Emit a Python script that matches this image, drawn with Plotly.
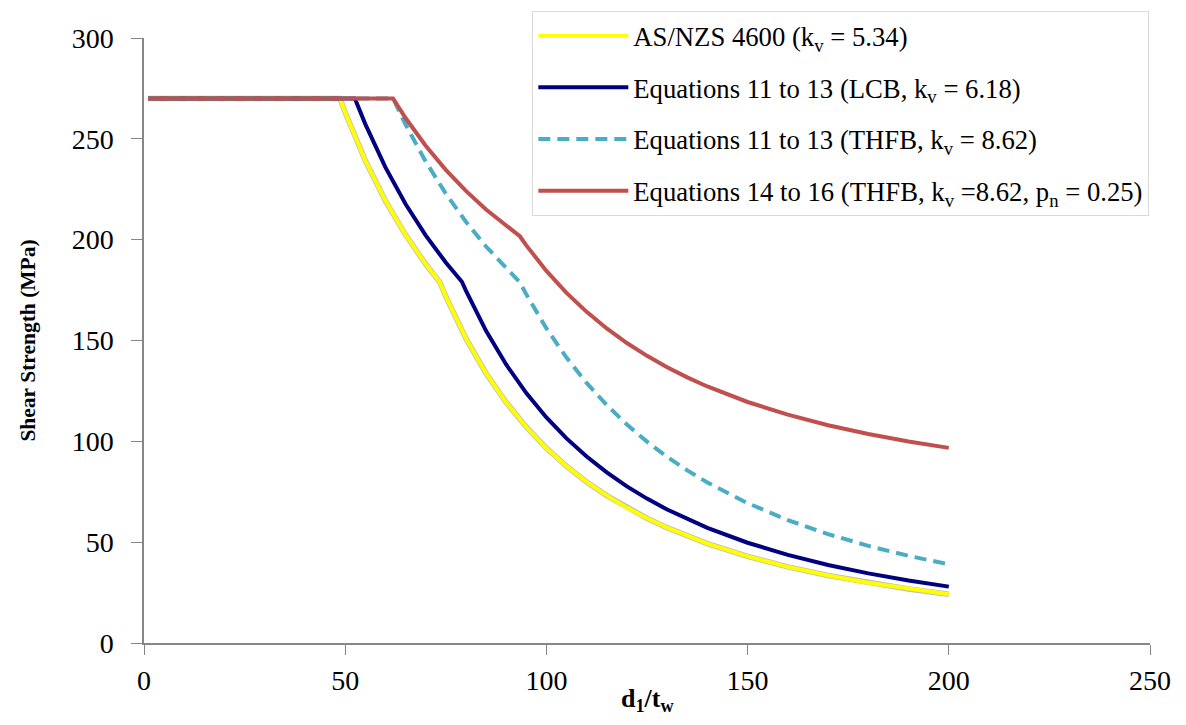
import plotly.graph_objects as go

# AS/NZS 4600 (kv = 5.34)
x_as = [1, 48.7, 50, 55, 60, 65, 70, 73.5, 75, 80, 85, 90, 95, 100, 105, 110, 115, 120, 125, 130,
        140, 150, 160, 170, 180, 190, 200]
y_as = [270, 270, 263.09, 239.17, 219.24, 202.38, 187.92, 178.95, 171.83, 151.02, 133.78, 119.33,
        107.10, 96.65, 87.67, 79.88, 73.08, 67.12, 61.86, 57.19, 49.31, 42.96, 37.76, 33.44, 29.83,
        26.77, 24.16]

# Equations 11 to 13 (LCB, kv = 6.18)
x_lcb = [1, 52.4, 55, 60, 65, 70, 75, 79, 80, 85, 90, 95, 100, 105, 110, 115, 120, 125, 130,
         140, 150, 160, 170, 180, 190, 200]
y_lcb = [270, 270, 257.29, 235.85, 217.70, 202.15, 188.68, 179.15, 174.78, 154.82, 138.10, 123.94,
         111.86, 101.46, 92.44, 84.58, 77.68, 71.59, 66.19, 57.07, 49.71, 43.69, 38.71, 34.52,
         30.99, 27.96]

# Equations 11 to 13 (THFB, kv = 8.62)
x_thfb = [1, 61.9, 65, 70, 75, 80, 85, 90, 93.4, 95, 100, 105, 110, 115, 120, 125, 130, 135, 140,
          150, 160, 170, 180, 190, 200]
y_thfb = [270, 270, 257.11, 238.74, 222.83, 208.90, 196.61, 185.69, 178.90, 172.88, 156.02, 141.52,
          128.94, 117.98, 108.35, 99.85, 92.32, 85.61, 79.60, 69.34, 60.95, 53.99, 48.16, 43.22,
          39.01]

# Equations 14 to 16 (THFB, kv = 8.62, pn = 0.25)
x_pn = [1, 61.9, 65, 70, 75, 80, 85, 90, 93.4, 95, 100, 105, 110, 115, 120, 125, 130, 135, 140,
        150, 160, 170, 180, 190, 200]
y_pn = [270, 270, 260.33, 246.56, 234.62, 224.18, 214.96, 206.77, 201.70, 197.16, 184.52, 173.64,
        164.21, 155.99, 148.76, 142.39, 136.74, 131.71, 127.20, 119.51, 113.21, 107.99, 103.62,
        99.92, 96.76]

x_ticks = [0, 50, 100, 150, 200, 250]
y_ticks = [0, 50, 100, 150, 200, 250, 300]

names = [
    "AS/NZS 4600 (k<sub>v</sub> = 5.34)",
    "Equations 11 to 13 (LCB, k<sub>v</sub> = 6.18)",
    "Equations 11 to 13 (THFB, k<sub>v</sub> = 8.62)",
    "Equations 14 to 16 (THFB, k<sub>v</sub> =8.62, p<sub>n</sub> = 0.25)",
]
x_title = "<b>d<sub>1</sub>/t<sub>w</sub></b>"
y_title = "<b>Shear Strength (MPa)</b>"

fig = go.Figure()
# faint outline under the yellow line
fig.add_trace(go.Scatter(x=x_as, y=y_as, mode="lines", showlegend=False, hoverinfo="skip",
                         line=dict(color="#BDBDBD", width=5.5)))
fig.add_trace(go.Scatter(x=x_as, y=y_as, mode="lines", name=names[0], legendgroup="a",
                         line=dict(color="#FFFF00", width=4)))
fig.add_trace(go.Scatter(x=x_lcb, y=y_lcb, mode="lines", name=names[1], legendgroup="b",
                         line=dict(color="#000080", width=4)))
fig.add_trace(go.Scatter(x=x_thfb, y=y_thfb, mode="lines", name=names[2], legendgroup="c",
                         line=dict(color="#4BACC6", width=4, dash="12px,7px")))
fig.add_trace(go.Scatter(x=x_pn, y=y_pn, mode="lines", name=names[3], legendgroup="d",
                         line=dict(color="#C0504D", width=4)))

font_fam = "Liberation Serif"

fig.update_layout(
    width=1186, height=725,
    margin=dict(l=144, r=36, t=38, b=82, autoexpand=False),
    paper_bgcolor="white", plot_bgcolor="white",
    font=dict(family=font_fam, color="black", size=26),
    showlegend=True,
    legend=dict(
        x=0.386, y=1.045, xanchor="left", yanchor="top",
        bgcolor="white", bordercolor="#D9D9D9", borderwidth=1,
        font=dict(family=font_fam, size=26.7, color="black"),
        tracegroupgap=14, itemwidth=90,
    ),
    xaxis=dict(
        range=[0, 250], tickvals=x_ticks, automargin=False,
        showgrid=False, zeroline=False, showline=True, linecolor="#868686", linewidth=1.5,
        ticks="outside", ticklen=10, tickcolor="#868686", tickwidth=1.3,
        tickfont=dict(size=28, family=font_fam), ticklabelstandoff=2,
    ),
    yaxis=dict(
        range=[0, 300], tickvals=y_ticks, automargin=False,
        showgrid=False, zeroline=False, showline=True, linecolor="#868686", linewidth=1.5,
        ticks="outside", ticklen=11, tickcolor="#868686", tickwidth=1.3,
        tickfont=dict(size=28, family=font_fam), ticklabelstandoff=12,
        title=dict(text=y_title, font=dict(size=21.5, family=font_fam), standoff=30),
    ),
    annotations=[
        dict(text=x_title, xref="paper", yref="paper", x=0.5, y=-0.094,
             xanchor="center", yanchor="middle", showarrow=False,
             font=dict(size=26, family=font_fam, color="black")),
    ],
)

fig.write_html("out.html")
